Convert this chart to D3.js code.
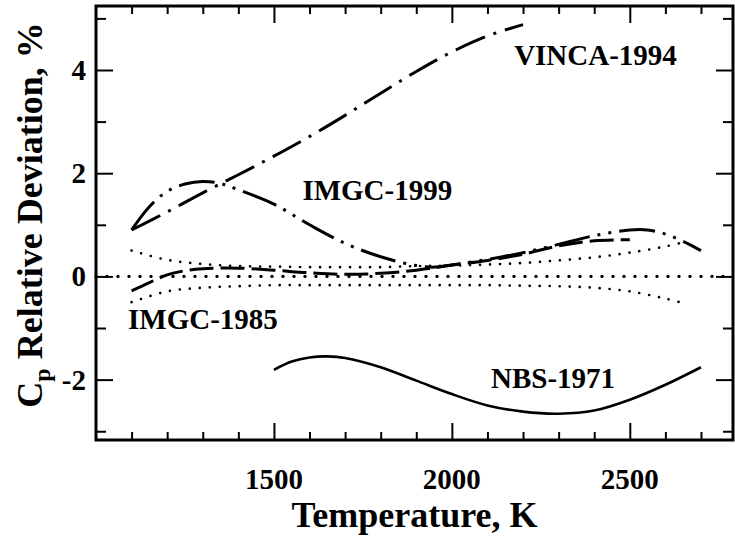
<!DOCTYPE html>
<html>
<head>
<meta charset="utf-8">
<script src="https://cdn.jsdelivr.net/npm/d3@7"></script>
<style>
  body { margin: 0; background: #fff; }
  text { font-family: "Liberation Serif", "Times New Roman", serif; font-weight: bold; fill: #000; }
</style>
</head>
<body>
<div id="chart"></div>
<script>
// curves (temperature in K, deviation in %)
var vincaT = [1100, 1200, 1300, 1400, 1500, 1600, 1700, 1800, 1900, 2000, 2100, 2200];
var vincaV = [0.9, 1.25, 1.62, 1.97, 2.33, 2.71, 3.12, 3.55, 3.97, 4.35, 4.66, 4.88];

var imgc99T = [1100, 1150, 1200, 1250, 1300, 1350, 1400, 1500, 1600, 1700, 1800, 1900, 1950, 2000, 2100, 2200, 2300, 2400, 2500, 2550, 2600, 2650, 2700];
var imgc99V = [0.9, 1.35, 1.65, 1.79, 1.84, 1.8, 1.68, 1.4, 1.0, 0.64, 0.38, 0.21, 0.18, 0.22, 0.33, 0.46, 0.62, 0.79, 0.9, 0.9, 0.82, 0.68, 0.5];

var imgc85T = [1100, 1150, 1200, 1250, 1300, 1400, 1500, 1600, 1700, 1800, 1900, 2000, 2100, 2200, 2300, 2400, 2500];
var imgc85V = [-0.28, -0.12, 0.03, 0.11, 0.15, 0.16, 0.12, 0.07, 0.04, 0.06, 0.12, 0.22, 0.31, 0.43, 0.59, 0.69, 0.71];

var upperT = [1100, 1200, 1300, 1400, 1500, 1600, 1700, 1800, 1900, 2000, 2100, 2200, 2300, 2400, 2500, 2600, 2650];
var upperV = [0.5, 0.32, 0.24, 0.2, 0.19, 0.18, 0.18, 0.18, 0.2, 0.21, 0.23, 0.26, 0.31, 0.37, 0.46, 0.58, 0.66];

var lowerT = [1100, 1200, 1300, 1400, 1500, 1600, 1700, 1800, 1900, 2000, 2100, 2200, 2300, 2400, 2500, 2600, 2650];
var lowerV = [-0.5, -0.29, -0.22, -0.19, -0.17, -0.17, -0.17, -0.17, -0.17, -0.17, -0.17, -0.18, -0.19, -0.22, -0.29, -0.43, -0.52];

var zeroT = [1000, 2790];
var zeroV = [0, 0];

var nbsT = [1500, 1550, 1600, 1650, 1700, 1800, 1900, 2000, 2100, 2200, 2300, 2400, 2500, 2600, 2700];
var nbsV = [-1.81, -1.65, -1.57, -1.55, -1.58, -1.76, -2.02, -2.28, -2.5, -2.62, -2.66, -2.6, -2.39, -2.1, -1.76];

var xMajor = [1500, 2000, 2500];
var xMinor = d3.range(1100, 2701, 100).filter(function(t) { return t % 500 != 0; });
var yMajor = [-2, 0, 2, 4];
var yMinor = [-3, -1, 1, 3, 5];

var labels = [
  { text: "VINCA-1994", t: 2175, v: 4.1 },
  { text: "IMGC-1999", t: 1580, v: 1.48 },
  { text: "IMGC-1985", t: 1090, v: -1.02 },
  { text: "NBS-1971", t: 2110, v: -2.17 }
];

var width = 735, height = 537;
var margin = { top: 6, left: 96, right: 2, bottom: 97 };

var svg = d3.select("#chart").append("svg")
  .attr("width", width)
  .attr("height", height);

var x = d3.scaleLinear().domain([1000, 2790]).range([margin.left, width - margin.right]);
var y = d3.scaleLinear().domain([-3.17, 5.24]).range([height - margin.bottom, margin.top]);

var x0 = x.range()[0], x1 = x.range()[1], y0 = y.range()[0], y1 = y.range()[1];

// ticks point inward on all four sides
function tickAxis(axis, vals, len, transform) {
  svg.append("g")
    .attr("transform", transform)
    .call(axis.tickValues(vals).tickSize(-len).tickFormat(""))
    .call(function(g) { g.select(".domain").remove(); })
    .selectAll("line").attr("stroke", "#000").attr("stroke-width", 2);
}
tickAxis(d3.axisBottom(x), xMajor, 17, "translate(0," + y0 + ")");
tickAxis(d3.axisBottom(x), xMinor, 8, "translate(0," + y0 + ")");
tickAxis(d3.axisTop(x), xMajor, 17, "translate(0," + y1 + ")");
tickAxis(d3.axisTop(x), xMinor, 8, "translate(0," + y1 + ")");
tickAxis(d3.axisLeft(y), yMajor, 17, "translate(" + x0 + ",0)");
tickAxis(d3.axisLeft(y), yMinor, 10, "translate(" + x0 + ",0)");
tickAxis(d3.axisRight(y), yMajor, 17, "translate(" + x1 + ",0)");
tickAxis(d3.axisRight(y), yMinor, 10, "translate(" + x1 + ",0)");

// tick labels
svg.append("g").selectAll("text")
  .data(xMajor).enter().append("text")
  .attr("x", function(d) { return x(d); })
  .attr("y", y0 + 49)
  .attr("text-anchor", "middle")
  .style("font-size", "29px")
  .text(function(d) { return d; });

svg.append("g").selectAll("text")
  .data(yMajor).enter().append("text")
  .attr("x", x0 - 10)
  .attr("y", function(d) { return y(d) + 10; })
  .attr("text-anchor", "end")
  .style("font-size", "29px")
  .text(function(d) { return d; });

// axis titles
svg.append("text")
  .attr("x", (x0 + x1) / 2)
  .attr("y", 527)
  .attr("text-anchor", "middle")
  .style("font-size", "36px")
  .text("Temperature, K");

var yt = svg.append("text")
  .attr("transform", "translate(42,215) rotate(-90)")
  .attr("text-anchor", "middle")
  .style("font-size", "36px");
yt.append("tspan").text("C");
yt.append("tspan").attr("dy", 8).style("font-size", "24px").text("p");
yt.append("tspan").attr("dy", -8).text("  Relative Deviation, %");

// curves
var line = d3.line()
  .x(function(d) { return x(d[0]); })
  .y(function(d) { return y(d[1]); })
  .curve(d3.curveCatmullRom);

function drawCurve(ts, vs, dash, w, cap) {
  svg.append("path")
    .datum(d3.zip(ts, vs))
    .attr("d", line)
    .attr("fill", "none")
    .attr("stroke", "#000")
    .attr("stroke-width", w)
    .attr("stroke-linecap", cap || "butt")
    .attr("stroke-dasharray", dash);
}

drawCurve(zeroT, zeroV, "0,11", 3.4, "round");
drawCurve(upperT, upperV, "0,10", 2.7, "round");
drawCurve(lowerT, lowerV, "0,10", 2.7, "round");
drawCurve(nbsT, nbsV, null, 2.6);
drawCurve(imgc85T, imgc85V, "24,7", 3);
drawCurve(imgc99T, imgc99V, "36,8,3,8,3,8", 3);
drawCurve(vincaT, vincaV, "32,9,3,9", 3);

// series labels
svg.append("g").selectAll("text")
  .data(labels).enter().append("text")
  .attr("x", function(d) { return x(d.t); })
  .attr("y", function(d) { return y(d.v); })
  .style("font-size", "29px")
  .text(function(d) { return d.text; });

// frame
svg.append("rect")
  .attr("x", x0).attr("y", y1)
  .attr("width", x1 - x0).attr("height", y0 - y1)
  .attr("fill", "none")
  .attr("stroke", "#000")
  .attr("stroke-width", 3);
</script>
</body>
</html>
